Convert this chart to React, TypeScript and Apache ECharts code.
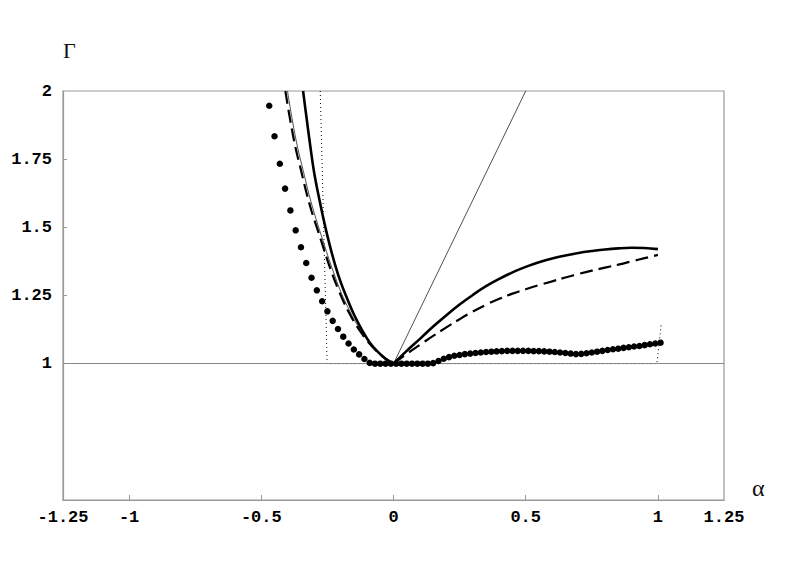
import React, { useEffect, useRef } from "react";
import * as echarts from "echarts";

// x-axis tick labels and y-axis tick labels
const xLabelValues = [-1.25, -1, -0.5, 0, 0.5, 1, 1.25];
const xTickValues = [-1, -0.5, 0, 0.5, 1];
const yLabelValues = [1, 1.25, 1.5, 1.75, 2];
const yTickValues = [1, 1.25, 1.5, 1.75];

// thick solid curve (left and right branches)
const solidLeft: [number, number][] = [
  [-0.342, 2.0], [-0.33, 1.91], [-0.315, 1.8], [-0.3, 1.7], [-0.28, 1.6],
  [-0.26, 1.51], [-0.24, 1.43], [-0.22, 1.36], [-0.2, 1.3], [-0.18, 1.25],
  [-0.15, 1.181], [-0.12, 1.125], [-0.09, 1.078], [-0.06, 1.044], [-0.03, 1.018], [0, 1],
];
const solidRight: [number, number][] = [
  [0, 1], [0.05, 1.047], [0.1, 1.091], [0.15, 1.136], [0.2, 1.178], [0.25, 1.217],
  [0.3, 1.252], [0.35, 1.284], [0.4, 1.311], [0.45, 1.335], [0.5, 1.355],
  [0.55, 1.372], [0.6, 1.386], [0.65, 1.397], [0.7, 1.406], [0.75, 1.413],
  [0.8, 1.419], [0.85, 1.423], [0.9, 1.425], [0.95, 1.424], [1.0, 1.42],
];

// dashed curve (left and right branches)
const dashedLeft: [number, number][] = [
  [-0.409, 2.0], [-0.39, 1.89], [-0.37, 1.79], [-0.35, 1.71], [-0.33, 1.63],
  [-0.31, 1.56], [-0.29, 1.5], [-0.27, 1.44], [-0.25, 1.38], [-0.23, 1.325],
  [-0.21, 1.275], [-0.19, 1.23], [-0.17, 1.19], [-0.15, 1.155], [-0.13, 1.125],
  [-0.11, 1.097], [-0.09, 1.073], [-0.07, 1.052], [-0.05, 1.034], [-0.03, 1.018], [0, 1],
];
const dashedRight: [number, number][] = [
  [0, 1], [0.05, 1.036], [0.1, 1.069], [0.15, 1.102], [0.2, 1.133], [0.25, 1.163],
  [0.3, 1.191], [0.35, 1.216], [0.4, 1.238], [0.45, 1.257], [0.5, 1.273],
  [0.55, 1.288], [0.6, 1.302], [0.65, 1.316], [0.7, 1.329], [0.75, 1.341],
  [0.8, 1.352], [0.85, 1.363], [0.9, 1.375], [0.95, 1.387], [1.0, 1.399],
];

// thin solid curves
const thinLeft: [number, number][] = [
  [-0.401, 2.0], [-0.382, 1.89], [-0.362, 1.79], [-0.342, 1.71], [-0.322, 1.63],
  [-0.302, 1.56], [-0.283, 1.5], [-0.263, 1.44], [-0.243, 1.38], [-0.223, 1.325],
  [-0.204, 1.275], [-0.184, 1.23], [-0.164, 1.19], [-0.145, 1.155], [-0.125, 1.125],
  [-0.106, 1.097], [-0.086, 1.073], [-0.066, 1.052], [-0.047, 1.034], [-0.028, 1.018], [0, 1],
];
const thinStraight: [number, number][] = [[0, 1], [0.5, 2]];

// thin dotted boundary line
const dottedBoundary: [number, number][] = [
  [-0.277, 2.0], [-0.251, 1.0], [0.996, 1.0], [1.013, 1.147],
];

// dots
const dotAlpha = [
  -0.47, -0.45, -0.43, -0.41, -0.39, -0.37, -0.35, -0.33, -0.31, -0.29,
  -0.27, -0.25, -0.23, -0.21, -0.19, -0.17, -0.15, -0.13, -0.11, -0.09,
  -0.07, -0.05, -0.03, -0.01, 0.01, 0.03, 0.05, 0.07, 0.09, 0.11,
  0.13, 0.15, 0.17, 0.19, 0.21, 0.23, 0.25, 0.27, 0.29, 0.31,
  0.33, 0.35, 0.37, 0.39, 0.41, 0.43, 0.45, 0.47, 0.49, 0.51,
  0.53, 0.55, 0.57, 0.59, 0.61, 0.63, 0.65, 0.67, 0.69, 0.71,
  0.73, 0.75, 0.77, 0.79, 0.81, 0.83, 0.85, 0.87, 0.89, 0.91,
  0.93, 0.95, 0.97, 0.99, 1.01,
];
const dotGamma = [
  1.946, 1.834, 1.733, 1.642, 1.562, 1.489, 1.427, 1.369, 1.315, 1.269,
  1.229, 1.192, 1.157, 1.127, 1.099, 1.074, 1.052, 1.034, 1.017, 1.003,
  1.0, 1.0, 1.0, 1.0, 1.0, 1.0, 1.0, 1.0, 1.0, 1.0,
  1.0, 1.002, 1.01, 1.018, 1.024, 1.029, 1.032, 1.035, 1.037, 1.039,
  1.041, 1.043, 1.044, 1.045, 1.046, 1.047, 1.047, 1.047, 1.047, 1.047,
  1.046, 1.046, 1.045, 1.044, 1.043, 1.041, 1.039, 1.037, 1.035, 1.036,
  1.038, 1.041, 1.044, 1.047, 1.05, 1.053, 1.055, 1.058, 1.06, 1.063,
  1.065, 1.068, 1.071, 1.074, 1.077,
];

const tickFont = {
  fontFamily: "'Liberation Mono', 'DejaVu Sans Mono', monospace",
  fontWeight: "bold" as const,
  fontSize: 17,
  color: "#000",
};

export default function App() {
  const ref = useRef<HTMLDivElement>(null);
  useEffect(() => {
    if (!ref.current) return;
    const chart = echarts.init(ref.current, undefined, { renderer: "svg" });
    const frame = "#999";
    const lineSeries = (data: [number, number][], style: any, z = 3, smooth: any = 0.4) => ({
      type: "line",
      data,
      symbol: "none",
      smooth,
      lineStyle: style,
      silent: true,
      z,
    });
    chart.setOption({
      animation: false,
      backgroundColor: "#fff",
      grid: {
        left: 63,
        right: 61,
        top: 91,
        bottom: 84,
        show: true,
        borderColor: frame,
        borderWidth: 1.2,
        backgroundColor: "transparent",
      },
      xAxis: {
        type: "value",
        min: -1.25,
        max: 1.25,
        interval: 0.25,
        name: "α",
        nameLocation: "end",
        nameGap: 28,
        nameTextStyle: {
          fontFamily: "'Liberation Serif', serif",
          fontSize: 24,
          color: "#111",
          align: "left",
          verticalAlign: "bottom",
        },
        axisLine: { show: true, onZero: false, lineStyle: { color: frame, width: 1.2 } },
        axisTick: {
          show: true,
          inside: true,
          length: 5,
          customValues: xTickValues,
          lineStyle: { color: frame },
        },
        axisLabel: {
          ...tickFont,
          margin: 9,
          customValues: xLabelValues,
          formatter: (v: number) => String(v),
        },
        splitLine: { show: false },
      },
      yAxis: {
        type: "value",
        min: 0.5,
        max: 2,
        interval: 0.25,
        name: "Γ",
        nameLocation: "end",
        nameGap: 30,
        nameTextStyle: {
          fontFamily: "'Liberation Serif', serif",
          fontSize: 22,
          color: "#111",
          align: "left",
          verticalAlign: "bottom",
        },
        axisLine: { show: true, onZero: false, lineStyle: { color: frame, width: 1.2 } },
        axisTick: {
          show: true,
          inside: true,
          length: 4,
          customValues: yTickValues,
          lineStyle: { color: frame },
        },
        axisLabel: {
          ...tickFont,
          margin: 11,
          customValues: yLabelValues,
          formatter: (v: number) => String(v),
        },
        splitLine: { show: false },
      },
      series: [
        {
          type: "line",
          data: [],
          symbol: "none",
          silent: true,
          markLine: {
            silent: true,
            symbol: "none",
            label: { show: false },
            lineStyle: { color: "#888", width: 1, type: "solid" },
            data: [{ yAxis: 1 }],
          },
          z: 1,
        },
        lineSeries(dottedBoundary, { color: "#000", width: 1, type: [1, 3] }, 2, false),
        lineSeries(thinStraight, { color: "#222", width: 0.8 }, 3, false),
        lineSeries(thinLeft, { color: "#222", width: 0.8 }, 3),
        lineSeries(dashedLeft, { color: "#000", width: 2.2, type: [13, 6] }, 4),
        lineSeries(dashedRight, { color: "#000", width: 2.2, type: [13, 6] }, 4),
        lineSeries(solidLeft, { color: "#000", width: 2.6 }, 5),
        lineSeries(solidRight, { color: "#000", width: 2.6 }, 5),
        {
          type: "scatter",
          data: dotAlpha.map((a, i) => [a, dotGamma[i]]),
          symbol: "circle",
          symbolSize: 6.5,
          itemStyle: { color: "#000", opacity: 1 },
          silent: true,
          z: 6,
        },
      ],
    });
    return () => chart.dispose();
  }, []);
  return (
    <div
      ref={ref}
      style={{ position: "fixed", left: 0, top: 0, width: 785, height: 584, background: "#fff" }}
    />
  );
}
